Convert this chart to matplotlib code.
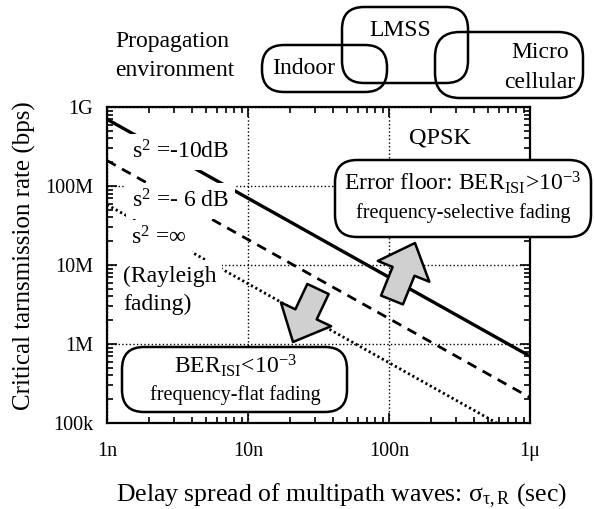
import matplotlib
matplotlib.use('Agg')
import matplotlib.pyplot as plt
import numpy as np
from matplotlib.patches import FancyBboxPatch, FancyArrowPatch
from matplotlib.ticker import LogLocator, NullFormatter, FixedLocator, FixedFormatter

plt.rcParams['font.family'] = ['Liberation Serif', 'DejaVu Serif']
plt.rcParams['mathtext.fontset'] = 'custom'
plt.rcParams['mathtext.rm'] = 'Liberation Serif'
plt.rcParams['mathtext.it'] = 'Liberation Serif:italic'

# ---- data ----
delay = [1e-9, 1e-6]                 # delay spread (sec)
rate_m10dB = [7.0e8, 7.0e5]          # s^2 = -10 dB
rate_m6dB = [2.1e8, 2.1e5]           # s^2 = -6 dB
rate_inf = [5.8e7, 5.8e4]            # s^2 = inf (Rayleigh)
xticks = [1e-9, 1e-8, 1e-7, 1e-6]
xticklabels = ['1n', '10n', '100n', '1μ']
yticks = [1e5, 1e6, 1e7, 1e8, 1e9]
yticklabels = ['100k', '1M', '10M', '100M', '1G']

W, H = 594, 509
fig = plt.figure(figsize=(W / 100, H / 100), dpi=100)
ax = fig.add_axes([107 / W, 1 - 423 / H, 423 / W, 316 / H])

def P(px, py):
    return (px / 100.0, (H - py) / 100.0)

T = fig.dpi_scale_trans

ax.plot(delay, rate_m10dB, color='k', lw=2.4, solid_capstyle='butt', zorder=2)
ax.plot(delay, rate_m6dB, color='k', lw=2.0, ls=(0, (3.6, 2.6)), zorder=2)
ax.plot(delay, rate_inf, color='k', lw=2.0, ls=(0, (0.8, 1.0)), zorder=2)

ax.set_xscale('log')
ax.set_yscale('log')
ax.set_xlim(1e-9, 1e-6)
ax.set_ylim(1e5, 1e9)
ax.xaxis.set_major_locator(FixedLocator(xticks))
ax.xaxis.set_major_formatter(FixedFormatter(xticklabels))
ax.yaxis.set_major_locator(FixedLocator(yticks))
ax.yaxis.set_major_formatter(FixedFormatter(yticklabels))
ax.xaxis.set_minor_locator(LogLocator(base=10, subs=np.arange(2, 10), numticks=20))
ax.yaxis.set_minor_locator(LogLocator(base=10, subs=np.arange(2, 10), numticks=20))
ax.xaxis.set_minor_formatter(NullFormatter())
ax.yaxis.set_minor_formatter(NullFormatter())
ax.tick_params(which='both', direction='in', top=True, right=True, width=1.2, color='k')
ax.tick_params(which='major', length=7, labelsize=14.5)
ax.tick_params(which='minor', length=4)
ax.tick_params(axis='x', which='major', pad=14)
ax.tick_params(axis='y', which='major', pad=10)
for s in ax.spines.values():
    s.set_linewidth(1.6)
ax.grid(True, which='major', ls=':', color='k', lw=1.0)

fig.text(*P(341, 496), 'Delay spread of multipath waves: σ$_{\\mathrm{τ,R}}$ (sec)',
         transform=T, ha='center', va='center', fontsize=18.5)
fig.text(*P(24, 256), 'Critical tarnsmission rate (bps)', transform=T, rotation=90,
         ha='center', va='center', fontsize=18)

bb = dict(boxstyle='square,pad=0.25', fc='white', ec='none')
lab_fs = 17
ax.text(*P(132, 152), 's$^2$ =-10dB', transform=T, ha='left', va='center', fontsize=lab_fs, bbox=bb, zorder=3)
ax.text(*P(132, 201), 's$^2$ =- 6 dB', transform=T, ha='left', va='center', fontsize=lab_fs, bbox=bb, zorder=3)
ax.text(*P(131, 238), 's$^2$ =∞', transform=T, ha='left', va='center', fontsize=lab_fs, bbox=bb, zorder=3)
ax.text(*P(123, 276), '(Rayleigh', transform=T, ha='left', va='center', fontsize=lab_fs, bbox=bb, zorder=3)
ax.text(*P(123, 304), 'fading)', transform=T, ha='left', va='center', fontsize=lab_fs, bbox=bb, zorder=3)
ax.text(*P(440, 138), 'QPSK', transform=T, ha='center', va='center', fontsize=17.5)

def rbox(px0, py0, px1, py1, r, face='white', z=4):
    x0, y1 = P(px0, py0)
    x1, y0 = P(px1, py1)
    p = FancyBboxPatch((x0, y0), x1 - x0, y1 - y0,
                       boxstyle='round,pad=0,rounding_size=%f' % r,
                       transform=T, fc=face, ec='k', lw=1.8, zorder=z, clip_on=False)
    fig.add_artist(p) if face == 'none' else ax.add_artist(p)

rbox(335, 160, 591, 237, 0.22)
ax.text(*P(463, 183), 'Error floor: BER$_{\\mathrm{ISI}}$>10$^{-3}$', transform=T,
        ha='center', va='center', fontsize=17, zorder=5, clip_on=False)
ax.text(*P(463, 213), 'frequency-selective fading', transform=T,
        ha='center', va='center', fontsize=14.5, zorder=5, clip_on=False)

rbox(122, 347, 347, 412, 0.22)
ax.text(*P(235, 366), 'BER$_{\\mathrm{ISI}}$<10$^{-3}$', transform=T,
        ha='center', va='center', fontsize=17, zorder=5)
ax.text(*P(235, 395), 'frequency-flat fading', transform=T,
        ha='center', va='center', fontsize=14.5, zorder=5)

for (a, b) in [((318, 289), (293, 342)), ((392, 300), (415, 243))]:
    arr = FancyArrowPatch(P(*a), P(*b), transform=T,
                          arrowstyle='simple,head_length=22,head_width=40,tail_width=17',
                          mutation_scale=1, shrinkA=0, shrinkB=0,
                          fc='#d0d0d0', ec='k', lw=1.8, zorder=6, clip_on=False)
    ax.add_artist(arr)

# propagation environment
rbox(262, 45, 387, 92, 0.22, face='none')
rbox(342, 7, 468, 83, 0.22, face='none')
rbox(435, 32, 583, 98, 0.25, face='none')
tfs = 17
fig.text(*P(115, 42), 'Propagation', transform=T, ha='left', va='center', fontsize=tfs)
fig.text(*P(115, 71), 'environment', transform=T, ha='left', va='center', fontsize=tfs)
fig.text(*P(304, 69), 'Indoor', transform=T, ha='center', va='center', fontsize=tfs)
fig.text(*P(400, 30), 'LMSS', transform=T, ha='center', va='center', fontsize=tfs)
fig.text(*P(540, 52), 'Micro', transform=T, ha='center', va='center', fontsize=tfs)
fig.text(*P(540, 82), 'cellular', transform=T, ha='center', va='center', fontsize=tfs)

fig.savefig('out.png', dpi=100)
